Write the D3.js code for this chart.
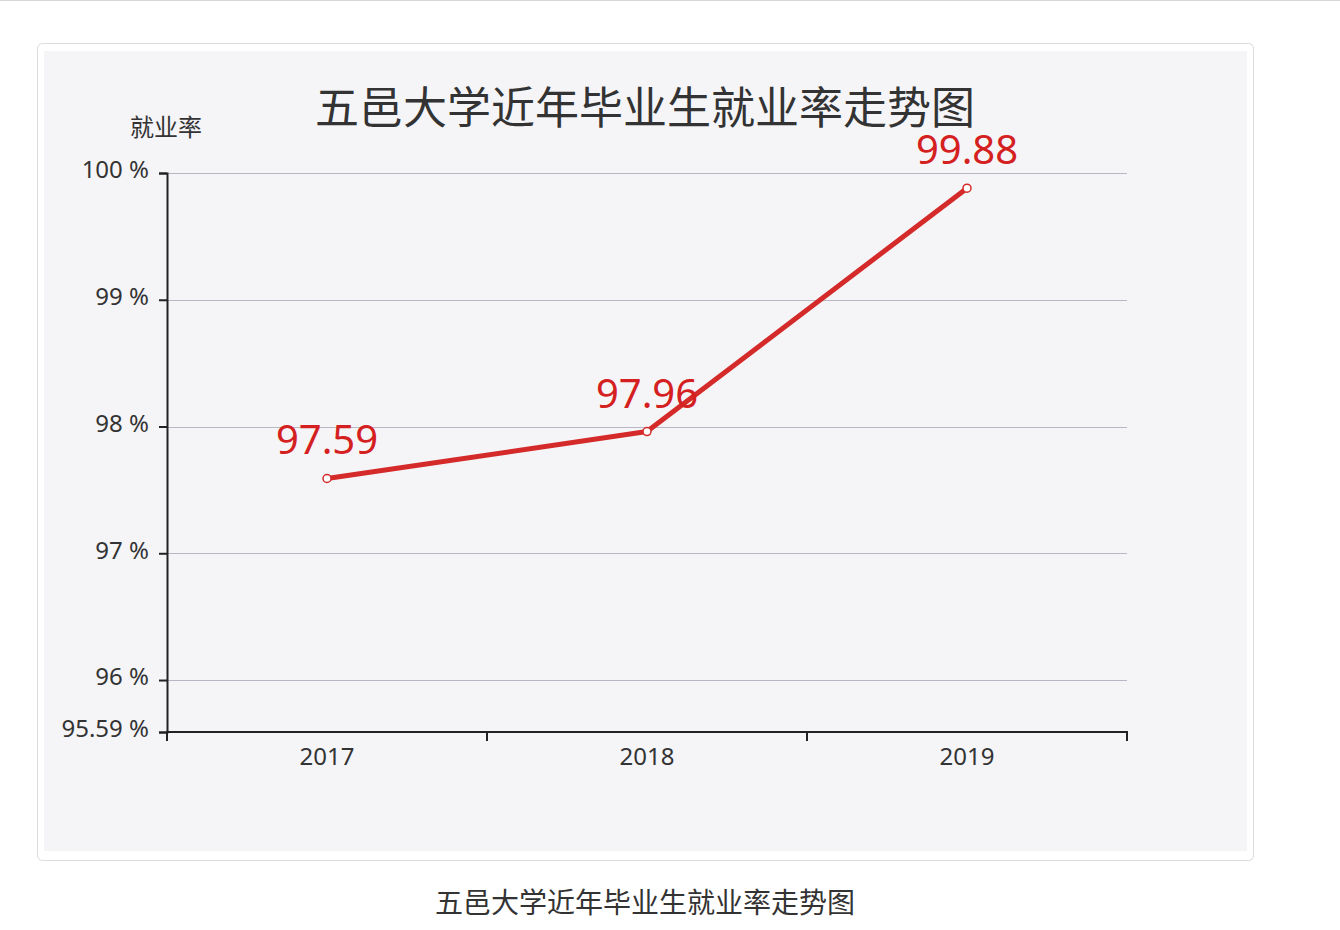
<!DOCTYPE html>
<html>
<head>
<meta charset="utf-8">
<script src="https://cdn.jsdelivr.net/npm/d3@7"></script>
<style>
  body { margin: 0; background: #fff; }
  svg { display: block; font-family: "Noto Sans CJK SC", "Noto Sans", sans-serif; }
</style>
</head>
<body>
<div id="chart"></div>
<script>
// data
const years = ["2017", "2018", "2019"];
const rates = [97.59, 97.96, 99.88];
const yTicks = [95.59, 96, 97, 98, 99, 100];
const title = "五邑大学近年毕业生就业率走势图";
const yName = "就业率";

const width = 1340, height = 930;
const svg = d3.select("#chart")
    .append("svg")
    .attr("width", width)
    .attr("height", height);

// top hairline of the page
svg.append("line")
    .attr("x1", 0).attr("x2", width)
    .attr("y1", 0.5).attr("y2", 0.5)
    .style("stroke", "#d8d8d8");

// card frame + grey panel
svg.append("rect")
    .attr("x", 37.5).attr("y", 43.5)
    .attr("width", 1216).attr("height", 817)
    .attr("rx", 5)
    .style("fill", "#fff")
    .style("stroke", "#dcdcdc");
svg.append("rect")
    .attr("x", 44).attr("y", 51)
    .attr("width", 1203).attr("height", 800)
    .style("fill", "#f5f5f8");

// scales
const x = d3.scaleBand()
    .domain(years)
    .range([167, 1127])
    .padding(0);
const y = d3.scaleLinear()
    .domain([95.59, 100])
    .range([732, 173]);

// grid lines
svg.append("g")
    .selectAll("line")
    .data(yTicks.filter(d => d !== 95.59))
    .enter()
    .append("line")
    .attr("x1", 167).attr("x2", 1127)
    .attr("y1", d => Math.round(y(d)) + 0.5)
    .attr("y2", d => Math.round(y(d)) + 0.5)
    .style("stroke", "#b8b8c4")
    .style("stroke-width", 1);

// y axis
const yAxis = svg.append("g")
    .attr("transform", "translate(167,0)")
    .call(d3.axisLeft(y)
        .tickValues(yTicks)
        .tickSize(8)
        .tickPadding(10)
        .tickFormat(d => d + " %"));
yAxis.select(".domain").style("stroke", "#222").style("stroke-width", 2);
yAxis.selectAll(".tick line").style("stroke", "#222").style("stroke-width", 2);
yAxis.selectAll("text")
    .attr("dy", "0.2em")
    .style("font-size", "24px")
    .style("fill", "#333")
    .style("font-family", "'Noto Sans', sans-serif");

// x axis: labels in the middle of each band, ticks on the band edges
const xAxis = svg.append("g")
    .attr("transform", "translate(0,732)")
    .call(d3.axisBottom(x).tickSize(0).tickPadding(16));
xAxis.select(".domain").remove();
xAxis.selectAll("text")
    .style("font-size", "24px")
    .style("fill", "#333")
    .style("font-family", "'Noto Sans', sans-serif");
const edges = years.map(d => x(d)).concat([x(years[years.length - 1]) + x.bandwidth()]);
svg.append("line")
    .attr("x1", 166).attr("x2", 1128)
    .attr("y1", 732).attr("y2", 732)
    .style("stroke", "#222").style("stroke-width", 2);
svg.append("g")
    .selectAll("line")
    .data(edges)
    .enter()
    .append("line")
    .attr("x1", d => d).attr("x2", d => d)
    .attr("y1", 732).attr("y2", 741)
    .style("stroke", "#222").style("stroke-width", 2);

// axis name
svg.append("text")
    .text(yName)
    .attr("x", 166).attr("y", 136)
    .attr("text-anchor", "middle")
    .style("font-size", "24px")
    .style("fill", "#333");

// title
svg.append("text")
    .text(title)
    .attr("x", 645).attr("y", 124)
    .attr("text-anchor", "middle")
    .style("font-size", "44px")
    .style("fill", "#333");

// line
const pts = years.map((d, i) => ({year: d, value: rates[i]}));
const cx = d => x(d.year) + x.bandwidth() / 2;
svg.append("path")
    .datum(pts)
    .attr("d", d3.line().x(cx).y(d => y(d.value)))
    .style("fill", "none")
    .style("stroke", "#d42a2a")
    .style("stroke-width", 5)
    .style("stroke-linejoin", "round");

svg.append("g")
    .selectAll("circle")
    .data(pts)
    .enter()
    .append("circle")
    .attr("cx", cx)
    .attr("cy", d => y(d.value))
    .attr("r", 4)
    .style("fill", "#fff")
    .style("stroke", "#d42a2a")
    .style("stroke-width", 1.5);

svg.append("g")
    .selectAll("text")
    .data(pts)
    .enter()
    .append("text")
    .text(d => d.value.toFixed(2))
    .attr("x", cx)
    .attr("y", d => y(d.value) - 24)
    .attr("text-anchor", "middle")
    .style("font-size", "40px")
    .style("fill", "#d42020")
    .style("font-family", "'Noto Sans', sans-serif");

// caption under the card
svg.append("text")
    .text(title)
    .attr("x", 645).attr("y", 913)
    .attr("text-anchor", "middle")
    .style("font-size", "28px")
    .style("fill", "#333");
</script>
</body>
</html>
